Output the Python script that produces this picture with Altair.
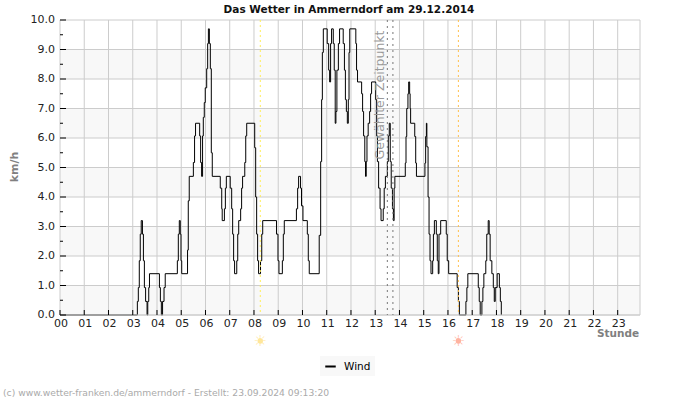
import altair as alt
import pandas as pd

FONT = "DejaVu Sans"
TITLE = "Das Wetter in Ammerndorf am 29.12.2014"
FOOTER = "(c) www.wetter-franken.de/ammerndorf - Erstellt: 23.09.2024 09:13:20"

# Wind readings as (hour, km/h); each value holds until the next reading
wind_readings = [
    (0, 0), (3.19, .46), (3.23, .93), (3.27, 1.84), (3.31, 2.74), (3.35, 3.2), (3.40, 2.74), (3.44, 1.84),
    (3.48, .93), (3.53, .46), (3.59, 0), (3.62, .46), (3.66, .93), (3.69, 1.4), (4.10, .93), (4.14, .46),
    (4.18, 0), (4.23, .46), (4.29, .93), (4.34, 1.4), (4.84, 1.84), (4.88, 2.74), (4.92, 3.2), (4.96, 2.74),
    (4.99, 1.84), (5.02, 1.4), (5.26, 2.2), (5.29, 3.87), (5.33, 4.7), (5.50, 5.17), (5.55, 6.07), (5.59, 6.5),
    (5.76, 6.07), (5.80, 5.17), (5.84, 4.7), (5.88, 6.07), (5.91, 6.7), (5.95, 7.2), (5.99, 7.7), (6.05, 8.35),
    (6.09, 9.2), (6.12, 9.7), (6.16, 9.2), (6.20, 8.35), (6.24, 5.5), (6.28, 4.7), (6.61, 4.3), (6.67, 3.6),
    (6.69, 3.2), (6.78, 3.6), (6.82, 4.3), (6.86, 4.7), (7.02, 4.3), (7.08, 3.6), (7.12, 2.74), (7.16, 1.84),
    (7.20, 1.4), (7.29, 1.84), (7.33, 2.74), (7.37, 3.2), (7.45, 3.6), (7.49, 4.3), (7.53, 4.7), (7.62, 5.17),
    (7.66, 6.07), (7.70, 6.5), (8.03, 5.67), (8.07, 4.0), (8.11, 2.74), (8.15, 1.84), (8.19, 1.4), (8.27, 1.84),
    (8.32, 2.74), (8.36, 3.2), (8.93, 2.74), (8.99, 1.84), (9.03, 1.4), (9.17, 1.84), (9.21, 2.74), (9.25, 3.2),
    (9.75, 3.6), (9.80, 4.3), (9.84, 4.7), (9.92, 4.3), (9.96, 3.7), (10.02, 3.2), (10.20, 2.74), (10.24, 1.84),
    (10.28, 1.4), (10.69, 2.7), (10.75, 5.2), (10.79, 7.3), (10.82, 8.9), (10.86, 9.7), (11.02, 9.2), (11.08, 8.3),
    (11.12, 7.9), (11.16, 9.2), (11.20, 9.7), (11.27, 9.2), (11.31, 8.3), (11.35, 6.5), (11.38, 6.9), (11.42, 8.3),
    (11.48, 9.2), (11.53, 9.7), (11.68, 9.2), (11.73, 8.3), (11.77, 7.3), (11.81, 6.9), (11.85, 6.5), (11.89, 7.3),
    (11.92, 8.9), (11.95, 9.7), (12.20, 9.2), (12.23, 8.3), (12.27, 7.9), (12.44, 7.5), (12.48, 6.9), (12.52, 6.07),
    (12.57, 5.2), (12.60, 4.7), (12.63, 5.2), (12.66, 6.07), (12.71, 6.5), (12.77, 6.9), (12.81, 7.5), (12.85, 7.9),
    (13.02, 7.3), (13.06, 6.07), (13.09, 5.2), (13.14, 4.3), (13.20, 3.6), (13.24, 3.2), (13.33, 3.6), (13.37, 4.3),
    (13.42, 4.7), (13.50, 5.2), (13.54, 6.07), (13.58, 6.5), (13.62, 5.2), (13.66, 4.3), (13.71, 3.6), (13.75, 3.2),
    (13.78, 4.3), (13.81, 4.7), (14.24, 5.15), (14.27, 6.05), (14.30, 7.0), (14.35, 7.5), (14.38, 7.9), (14.42, 7.5),
    (14.44, 7.0), (14.46, 6.5), (14.63, 6.05), (14.67, 5.15), (14.70, 4.7), (15.05, 5.15), (15.08, 6.05), (15.11, 6.5),
    (15.13, 5.7), (15.18, 4.0), (15.22, 2.74), (15.26, 1.84), (15.30, 1.4), (15.37, 1.84), (15.40, 2.74), (15.44, 3.2),
    (15.52, 2.74), (15.56, 1.84), (15.60, 1.4), (15.63, 2.74), (15.70, 3.2), (15.93, 2.74), (15.97, 1.84), (16.03, 1.4),
    (16.38, .93), (16.43, .46), (16.47, 0), (16.74, .46), (16.78, .93), (16.82, 1.4), (17.25, .93), (17.29, .46),
    (17.33, 0), (17.40, .46), (17.44, .93), (17.48, 1.4), (17.56, 1.84), (17.60, 2.74), (17.66, 3.2), (17.70, 2.74),
    (17.74, 1.84), (17.81, 1.4), (17.87, .93), (17.91, .46), (17.95, .93), (18.03, 1.4), (18.12, .93), (18.16, .46),
    (18.20, 0),
]
hour_ticks = list(range(24))
hour_labels = [f"{h:02d}" for h in hour_ticks]
major_values = list(range(11))
minor_values = [v + 0.5 for v in range(10)]
shaded_from = [0, 2, 4, 6, 8]
shaded_to = [1, 3, 5, 7, 9]
HOUR_END = 23.92
sunrise = 8.26
sunset = 16.43
selected_times = [13.5, 13.73]

wind = pd.DataFrame(wind_readings, columns=["hour", "kmh"])
wind["series"] = "Wind"
hours = pd.DataFrame({"hour": hour_ticks, "label": hour_labels})
majors = pd.DataFrame({"v": major_values})
minors = pd.DataFrame({"v": minor_values})
bands = pd.DataFrame({"a": shaded_from, "b": shaded_to})

x_scale = alt.Scale(domain=[0, HOUR_END], nice=False, zero=False)
y_scale = alt.Scale(domain=[0, 10], nice=False)
X = alt.X("hour:Q", scale=x_scale, axis=None)
Y = alt.Y("v:Q", scale=y_scale, axis=None)

band_layer = alt.Chart(bands).mark_rect(color="#f8f8f8").encode(
    y=alt.Y("a:Q", scale=y_scale, axis=None), y2="b:Q",
    x=alt.value(0), x2=alt.value(580))
grid_h = alt.Chart(majors).mark_rule(color="#cccccc", strokeWidth=1).encode(
    y=Y, x=alt.value(0), x2=alt.value(580))
grid_v = alt.Chart(hours).mark_rule(color="#cccccc", strokeWidth=1).encode(
    x=X, y=alt.value(0), y2=alt.value(295))
edge = alt.Chart(pd.DataFrame({"hour": [HOUR_END]})).mark_rule(color="#cccccc").encode(
    x=X, y=alt.value(0), y2=alt.value(295))

line = alt.Chart(wind).mark_line(interpolate="step-after", strokeWidth=1).encode(
    x=X,
    y=alt.Y("kmh:Q", scale=y_scale, axis=None),
    color=alt.Color("series:N", scale=alt.Scale(range=["#000000"]), legend=alt.Legend(
        orient="none", legendX=260, legendY=336, title=None, fillColor="#f8f8f8",
        labelFont=FONT, labelFontSize=10.5, labelColor="#000000", symbolType="stroke",
        symbolStrokeWidth=2, symbolSize=110, padding=4, labelOffset=7)),
)

# Frame lines drawn over the series so calm periods stay grey along the base
base_line = alt.Chart(pd.DataFrame({"v": [0]})).mark_rule(color="#cccccc", strokeWidth=1).encode(
    y=Y, x=alt.value(0), x2=alt.value(580))

x_ticks = alt.Chart(hours).mark_rule(color="#000000").encode(
    x=X, y=alt.value(290), y2=alt.value(295))
y_ticks = alt.Chart(majors).mark_rule(color="#000000").encode(
    y=Y, x=alt.value(0), x2=alt.value(6))
y_minor = alt.Chart(minors).mark_rule(color="#000000").encode(
    y=Y, x=alt.value(0), x2=alt.value(3))

x_labels = alt.Chart(hours).mark_text(font=FONT, fontSize=11, color="#222222", baseline="middle", dx=1).encode(
    x=X, y=alt.value(303.5), text="label:N")
y_labels = alt.Chart(majors.assign(txt=[f"{v:.1f}" for v in major_values])).mark_text(
    font=FONT, fontSize=11, color="#222222", align="right", baseline="middle").encode(
    y=Y, x=alt.value(-5), text="txt:N")


def vertical(hour, color, dash):
    return alt.Chart(pd.DataFrame({"hour": [hour]})).mark_rule(
        color=color, strokeDash=dash, strokeWidth=1).encode(x=X, y=alt.value(0), y2=alt.value(295))


def sun(hour, color):
    frame = pd.DataFrame({"hour": [hour], "g": ["\u2600"]})
    disc = alt.Chart(frame).mark_point(shape="circle", filled=True, opacity=1, size=28, color=color).encode(
        x=X, y=alt.value(321))
    rays = alt.Chart(frame).mark_text(font=FONT, fontSize=15, color=color, baseline="middle").encode(
        x=X, y=alt.value(321), text="g:N")
    return disc + rays


def caption(text, x, y, **style):
    return alt.Chart(pd.DataFrame({"t": [text]})).mark_text(font=FONT, baseline="middle", **style).encode(
        x=alt.value(x), y=alt.value(y), text="t:N")


chart = alt.layer(
    band_layer, grid_h, grid_v, edge, line, base_line, x_ticks, y_ticks, y_minor,
    x_labels, y_labels,
    vertical(sunrise, "#ffee55", [2, 3]),
    vertical(sunset, "#ffc04d", [2, 3]),
    vertical(selected_times[0], "#777777", [2, 4]),
    vertical(selected_times[1], "#777777", [2, 4]),
    sun(sunrise, "#ffe79a"),
    sun(sunset, "#ffb3a0"),
    caption("Gewählter Zeitpunkt", 320, 75, fontSize=12.5, color="#999999", angle=270),
    caption(TITLE, 289, -12, fontSize=10.5, fontWeight="bold", color="#111111", dy=2),
    caption("km/h", -45, 147, fontSize=11, fontWeight="bold", color="#808080", angle=270),
    caption("Stunde", 558, 314, fontSize=10.5, fontWeight="bold", color="#808080"),
    caption(FOOTER, -57, 373, fontSize=9.2, color="#aaaaaa", align="left"),
).properties(
    width=580, height=295,
    autosize=alt.AutoSizeParams(type="none"),
    padding={"left": 60, "top": 20, "right": 60, "bottom": 85},
).configure_view(stroke=None)

chart.save("out.html", embed_options={"renderer": "svg", "actions": False})
